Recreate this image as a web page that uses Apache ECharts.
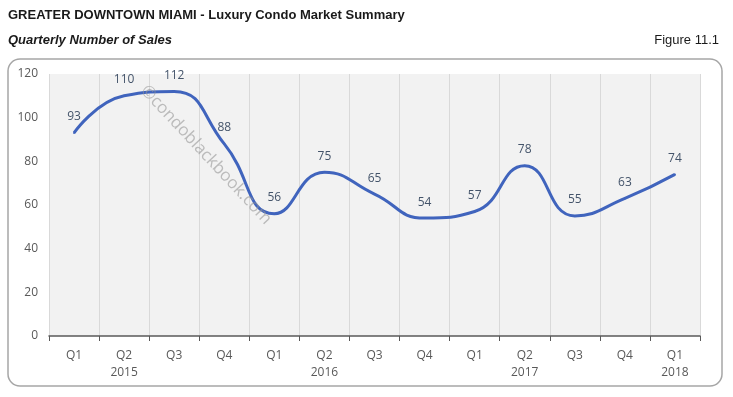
<!DOCTYPE html>
<html>
<head>
<meta charset="utf-8">
<script src="https://cdn.jsdelivr.net/npm/echarts@6/dist/echarts.min.js"></script>
<style>
  html, body { margin: 0; padding: 0; background: #fff; }
  #chart { width: 733px; height: 397px; }
</style>
</head>
<body>
<div id="chart"></div>
<script>
var chart = echarts.init(document.getElementById('chart'));

// quarters, with the year under the middle one
var quarters = ['Q1', 'Q2\n2015', 'Q3', 'Q4', 'Q1', 'Q2\n2016', 'Q3', 'Q4', 'Q1', 'Q2\n2017', 'Q3', 'Q4', 'Q1\n2018'];
var sales = [93, 110, 112, 88, 56, 75, 65, 54, 57, 78, 55, 63, 74];
var yTicks = [0, 20, 40, 60, 80, 100, 120];

var option = {
    backgroundColor: '#fff',
    animation: false,
    graphic: [
        { // outer frame
            type: 'rect',
            shape: { x: 8, y: 59, width: 714, height: 327, r: 12 },
            style: { fill: 'none', stroke: '#a6a6a6', lineWidth: 1.5 },
            z: 0
        },
        {
            type: 'text', left: 8, top: 9,
            style: { text: 'GREATER DOWNTOWN MIAMI - Luxury Condo Market Summary', font: 'bold 13px "Liberation Sans", Arial', fill: '#1a1a1a' }
        },
        {
            type: 'text', left: 8, top: 34,
            style: { text: 'Quarterly Number of Sales', font: 'italic bold 13px "Liberation Sans", Arial', fill: '#1a1a1a' }
        },
        {
            type: 'text', right: 14, top: 34,
            style: { text: 'Figure 11.1', font: '13px "Liberation Sans", Arial', fill: '#1a1a1a' }
        },
        { // watermark
            type: 'text',
            x: 206, y: 155,
            rotation: -0.82,
            style: {
                text: '©condoblackbook.com',
                font: '17px "Open Sans", sans-serif',
                fill: 'rgba(150,150,150,0.6)',
                align: 'center', verticalAlign: 'middle'
            },
            z: 10
        }
    ],
    grid: {
        left: 49, right: 33, top: 74, bottom: 61,
        show: true,
        backgroundColor: '#f2f2f2',
        borderWidth: 0
    },
    xAxis: {
        type: 'category',
        data: quarters,
        boundaryGap: true,
        axisLine: { lineStyle: { color: '#595959', width: 1.5 } },
        axisTick: { show: true, length: 5, lineStyle: { color: '#595959' } },
        splitLine: { show: true, lineStyle: { color: '#d9d9d9', width: 1 } },
        axisLabel: {
            color: '#595959',
            fontFamily: '"Open Sans", sans-serif',
            fontSize: 12,
            lineHeight: 17,
            margin: 11,
            verticalAlign: 'top',
            interval: 0
        }
    },
    yAxis: {
        type: 'value',
        min: yTicks[0],
        max: yTicks[yTicks.length - 1],
        interval: 20,
        axisLine: { show: false },
        axisTick: { show: false },
        splitLine: { show: false },
        axisLabel: {
            color: '#595959',
            fontFamily: '"Open Sans", sans-serif',
            fontSize: 12,
            margin: 11
        }
    },
    series: [{
        type: 'line',
        data: sales,
        smooth: 0.5,
        symbol: 'circle',
        symbolSize: 2,
        showSymbol: true,
        itemStyle: { color: '#4064bd' },
        lineStyle: { color: '#4064bd', width: 3 },
        label: {
            show: true,
            position: 'top',
            distance: 9,
            color: '#44546a',
            fontFamily: '"Open Sans", sans-serif',
            fontSize: 12
        },
        labelLayout: { hideOverlap: false },
        z: 5
    }]
};

chart.setOption(option);
</script>
</body>
</html>
